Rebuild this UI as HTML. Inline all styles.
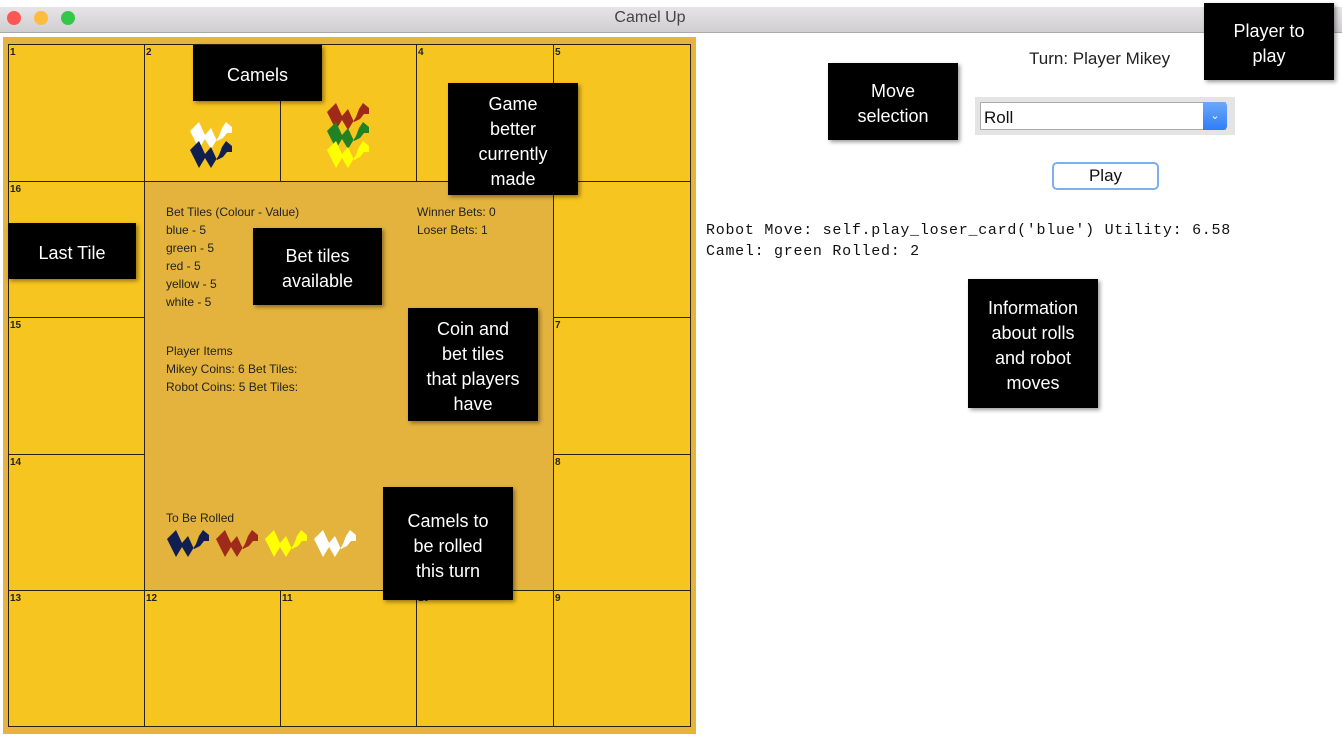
<!DOCTYPE html>
<html><head><meta charset="utf-8"><style>
body{margin:0;width:1342px;height:739px;background:#fff;position:relative;overflow:hidden;font-family:"Liberation Sans",sans-serif}
.abs{position:absolute}
.cell{position:absolute;background:#f7c520;border:1.5px solid #2a2208;box-sizing:border-box;font-size:10px;font-weight:bold;color:#222;padding:2px 0 0 1px}
.call{position:absolute;background:#000;color:#fff;font-size:18px;line-height:25px;text-align:center;display:flex;align-items:center;justify-content:center;box-shadow:2px 2px 4px rgba(0,0,0,.4);padding-top:5px;box-sizing:border-box}
.t{position:absolute;font-size:12px;color:#222;line-height:18px}
.mono{position:absolute;font-family:"Liberation Mono",monospace;font-size:15px;color:#111;left:706px;letter-spacing:0.72px}
</style></head><body>
<svg width="0" height="0" style="position:absolute"><defs>
<symbol id="cm" viewBox="0 0 42 30"><polygon points="0,12 9,30 15,20 21,30 29,17 32,9 36,3 42,8 42,14 37,14 33,19 27,22 21,9 15,16 9,3 4,8"/></symbol>
</defs></svg>
<div class="abs" style="left:0;top:7px;width:1342px;height:25px;background:linear-gradient(#e6e4e6,#d0ced0);border-bottom:1px solid #aaa"></div>
<div class="abs" style="left:7px;top:11px;width:14px;height:14px;border-radius:50%;background:#fc5753"></div>
<div class="abs" style="left:34px;top:11px;width:14px;height:14px;border-radius:50%;background:#fdbc40"></div>
<div class="abs" style="left:61px;top:11px;width:14px;height:14px;border-radius:50%;background:#34c84a"></div>
<div class="abs" style="left:0;top:9px;width:1300px;text-align:center;font-size:16px;color:#444">Camel Up</div>
<div class="abs" style="left:3px;top:37px;width:693px;height:697px;background:#e6b43c"></div>
<div class="abs" style="left:144px;top:181px;width:410px;height:410px;background:#e3b33d;border:1.5px solid #2a2208;box-sizing:border-box"></div>
<div class="cell" style="left:8px;top:44px;width:137px;height:138px">1</div>
<div class="cell" style="left:144px;top:44px;width:137px;height:138px">2</div>
<div class="cell" style="left:280px;top:44px;width:137px;height:138px"></div>
<div class="cell" style="left:416px;top:44px;width:138px;height:138px">4</div>
<div class="cell" style="left:553px;top:44px;width:138px;height:138px">5</div>
<div class="cell" style="left:8px;top:181px;width:137px;height:137px">16</div>
<div class="cell" style="left:8px;top:317px;width:137px;height:138px">15</div>
<div class="cell" style="left:8px;top:454px;width:137px;height:137px">14</div>
<div class="cell" style="left:553px;top:181px;width:138px;height:137px"></div>
<div class="cell" style="left:553px;top:317px;width:138px;height:138px">7</div>
<div class="cell" style="left:553px;top:454px;width:138px;height:137px">8</div>
<div class="cell" style="left:8px;top:590px;width:137px;height:137px">13</div>
<div class="cell" style="left:144px;top:590px;width:137px;height:137px">12</div>
<div class="cell" style="left:280px;top:590px;width:137px;height:137px">11</div>
<div class="cell" style="left:416px;top:590px;width:138px;height:137px">10</div>
<div class="cell" style="left:553px;top:590px;width:138px;height:137px">9</div>
<svg class="abs" style="left:189px;top:119px" width="44" height="30"><use href="#cm" fill="#fff"/></svg>
<svg class="abs" style="left:189px;top:138px" width="44" height="30"><use href="#cm" fill="#101e50"/></svg>
<svg class="abs" style="left:326px;top:100px" width="44" height="30"><use href="#cm" fill="#a02a1a"/></svg>
<svg class="abs" style="left:326px;top:119px" width="44" height="30"><use href="#cm" fill="#218224"/></svg>
<svg class="abs" style="left:326px;top:138px" width="44" height="30"><use href="#cm" fill="#ffff00"/></svg>
<div class="t" style="left:166px;top:203px">Bet Tiles (Colour - Value)<br>blue - 5<br>green - 5<br>red - 5<br>yellow - 5<br>white - 5</div>
<div class="t" style="left:417px;top:203px">Winner Bets: 0<br>Loser Bets: 1</div>
<div class="t" style="left:166px;top:342px">Player Items<br>Mikey Coins: 6 Bet Tiles:<br>Robot Coins: 5 Bet Tiles:</div>
<div class="t" style="left:166px;top:509px">To Be Rolled</div>
<svg class="abs" style="left:166px;top:527px" width="44" height="30"><use href="#cm" fill="#101e50"/></svg>
<svg class="abs" style="left:215px;top:527px" width="44" height="30"><use href="#cm" fill="#a02a1a"/></svg>
<svg class="abs" style="left:264px;top:527px" width="44" height="30"><use href="#cm" fill="#ffff00"/></svg>
<svg class="abs" style="left:313px;top:527px" width="44" height="30"><use href="#cm" fill="#fff"/></svg>
<div class="abs" style="left:1029px;top:49px;font-size:17px;color:#222">Turn: Player Mikey</div>
<div class="abs" style="left:975px;top:97px;width:260px;height:38px;background:#e4e4e4"></div>
<div class="abs" style="left:980px;top:102px;width:246px;height:28px;background:#fff;border:1px solid #aaa;box-sizing:border-box;font-size:17px;padding:5px 0 0 3px;color:#111">Roll</div>
<div class="abs" style="left:1203px;top:102px;width:24px;height:28px;background:linear-gradient(#6aa8fb,#2f7ef5);border-radius:0 4px 4px 0;color:#fff;font-size:11px;text-align:center;line-height:28px">&#8964;</div>
<div class="abs" style="left:1052px;top:162px;width:107px;height:28px;border:2px solid #7bb0ee;border-radius:5px;box-sizing:border-box;background:#fff;text-align:center;font-size:17px;line-height:24px;color:#111">Play</div>
<div class="mono" style="top:222px">Robot Move: self.play_loser_card('blue') Utility: 6.58</div>
<div class="mono" style="top:243px">Camel: green Rolled: 2</div>
<div class="call" style="left:193px;top:45px;width:129px;height:56px">Camels</div>
<div class="call" style="left:448px;top:83px;width:130px;height:112px">Game<br>better<br>currently<br>made</div>
<div class="call" style="left:8px;top:223px;width:128px;height:56px">Last Tile</div>
<div class="call" style="left:253px;top:228px;width:129px;height:77px">Bet tiles<br>available</div>
<div class="call" style="left:408px;top:308px;width:130px;height:113px">Coin and<br>bet tiles<br>that players<br>have</div>
<div class="call" style="left:383px;top:487px;width:130px;height:113px">Camels to<br>be rolled<br>this turn</div>
<div class="call" style="left:1204px;top:3px;width:130px;height:77px">Player to<br>play</div>
<div class="call" style="left:828px;top:63px;width:130px;height:77px">Move<br>selection</div>
<div class="call" style="left:968px;top:279px;width:130px;height:129px">Information<br>about rolls<br>and robot<br>moves</div>
</body></html>
